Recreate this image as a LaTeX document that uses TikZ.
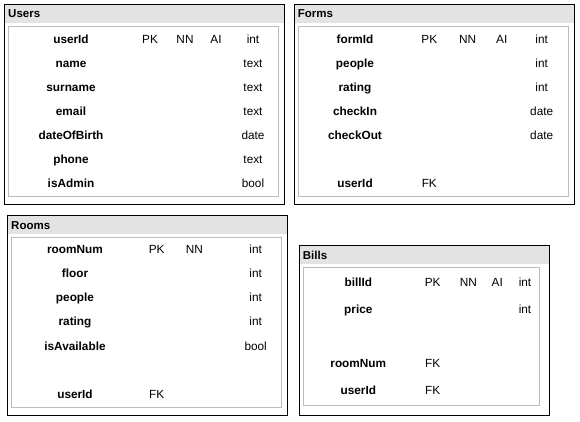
\documentclass[tikz,border=0pt]{standalone}
\usepackage{fontspec}
\setmainfont{Liberation Sans}
\begin{document}
\begin{tikzpicture}[x=1pt,y=-1pt,
  outerbox/.style={draw=black,line width=1pt},
  headfill/.style={fill=headgray},
  innerbox/.style={draw=innergray,line width=1pt},
  title/.style={anchor=base west,inner sep=0pt,font=\fontsize{11.5}{12}\selectfont\bfseries},
  fld/.style={anchor=base,inner sep=0pt,font=\fontsize{11.8}{12}\selectfont\bfseries},
  att/.style={anchor=base,inner sep=0pt,font=\fontsize{11.8}{12}\selectfont}]
\definecolor{headgray}{HTML}{E3E3E3}
\definecolor{innergray}{HTML}{BDBDBD}
\useasboundingbox (0,0) rectangle (580,421);
% ---------- Users ----------
\fill[headgray] (4.5,4.5) rectangle (284.5,22.5);
\draw[outerbox] (4.5,4.5) rectangle (284.5,204);
\draw[innerbox] (8.5,26.5) rectangle (278.5,196.5);
\node[title] (uT) at (8,17.6) {Users};
\node[fld] (u1) at (71,43.3) {userId};
\node[att] (u1pk) at (150,43.3) {PK};
\node[att] (u1nn) at (185,43.3) {NN};
\node[att] (u1ai) at (216,43.3) {AI};
\node[att] (u1t) at (253,43.3) {int};
\node[fld] (u2) at (71,67.3) {name};
\node[att] (u2t) at (253,67.3) {text};
\node[fld] (u3) at (71,91.3) {surname};
\node[att] (u3t) at (253,91.3) {text};
\node[fld] (u4) at (71,115.3) {email};
\node[att] (u4t) at (253,115.3) {text};
\node[fld] (u5) at (71,139.3) {dateOfBirth};
\node[att] (u5t) at (253,139.3) {date};
\node[fld] (u6) at (71,163.3) {phone};
\node[att] (u6t) at (253,163.3) {text};
\node[fld] (u7) at (71,187.3) {isAdmin};
\node[att] (u7t) at (253,187.3) {bool};
% ---------- Forms ----------
\fill[headgray] (294.5,4.5) rectangle (574.5,22.5);
\draw[outerbox] (294.5,4.5) rectangle (574.5,204);
\draw[innerbox] (298.5,26.5) rectangle (568.5,196.5);
\node[title] (fT) at (297.7,17.6) {Forms};
\node[fld] (f1) at (355,43.3) {formId};
\node[att] (f1pk) at (429.3,43.3) {PK};
\node[att] (f1nn) at (467.7,43.3) {NN};
\node[att] (f1ai) at (501.7,43.3) {AI};
\node[att] (f1t) at (541.7,43.3) {int};
\node[fld] (f2) at (355,67.3) {people};
\node[att] (f2t) at (541.7,67.3) {int};
\node[fld] (f3) at (355,91.3) {rating};
\node[att] (f3t) at (541.7,91.3) {int};
\node[fld] (f4) at (355,115.3) {checkIn};
\node[att] (f4t) at (541.7,115.3) {date};
\node[fld] (f5) at (355,139.3) {checkOut};
\node[att] (f5t) at (541.7,139.3) {date};
\node[fld] (f6) at (355,187.3) {userId};
\node[att] (f6fk) at (429.3,187.3) {FK};
% ---------- Rooms ----------
\fill[headgray] (7.5,215) rectangle (287.5,233.5);
\draw[outerbox] (7.5,215) rectangle (287.5,415);
\draw[innerbox] (11.5,237.5) rectangle (281.5,407.5);
\node[title] (rT) at (11,229.3) {Rooms};
\node[fld] (r1) at (75,253.6) {roomNum};
\node[att] (r1pk) at (156.7,253.6) {PK};
\node[att] (r1nn) at (194.3,253.6) {NN};
\node[att] (r1t) at (255.7,253.6) {int};
\node[fld] (r2) at (75,277.7) {floor};
\node[att] (r2t) at (255.7,277.7) {int};
\node[fld] (r3) at (75,301.8) {people};
\node[att] (r3t) at (255.7,301.8) {int};
\node[fld] (r4) at (75,325.9) {rating};
\node[att] (r4t) at (255.7,325.9) {int};
\node[fld] (r5) at (75,350) {isAvailable};
\node[att] (r5t) at (255.7,350) {bool};
\node[fld] (r6) at (75,398.2) {userId};
\node[att] (r6fk) at (156.7,398.2) {FK};
% ---------- Bills ----------
\fill[headgray] (299.5,245) rectangle (549.5,263.5);
\draw[outerbox] (299.5,245) rectangle (549.5,415.5);
\draw[innerbox] (303.5,267.5) rectangle (539.5,405.5);
\node[title] (bT) at (302.7,259.3) {Bills};
\node[fld] (b1) at (358.3,286.6) {billId};
\node[att] (b1pk) at (432.7,286.6) {PK};
\node[att] (b1nn) at (468.3,286.6) {NN};
\node[att] (b1ai) at (497.3,286.6) {AI};
\node[att] (b1t) at (525,286.6) {int};
\node[fld] (b2) at (358.3,313.6) {price};
\node[att] (b2t) at (525,313.6) {int};
\node[fld] (b3) at (358.3,367.6) {roomNum};
\node[att] (b3fk) at (432.7,367.6) {FK};
\node[fld] (b4) at (358.3,394.6) {userId};
\node[att] (b4fk) at (432.7,394.6) {FK};
\end{tikzpicture}
\end{document}
